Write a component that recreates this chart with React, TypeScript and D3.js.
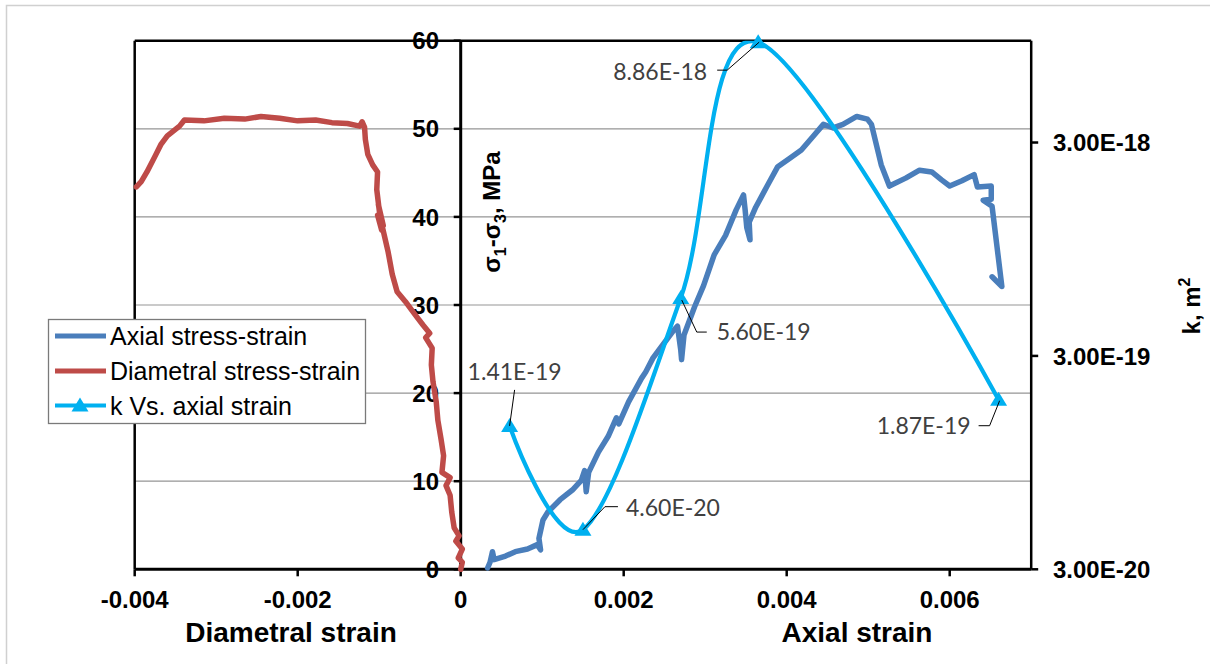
import React from "react";
import * as d3 from "d3";

// Diametral stress-strain record (strain, deviator stress in MPa)
const diametralStrain = [
  0, 0.00002, -0.00003, 0.00002, -0.00006, -0.00002, -0.00008, -0.00011, -0.00013, -0.00018,
  -0.00013, -0.00023, -0.00021, -0.00024, -0.00028, -0.0003, -0.00034, -0.00036, -0.00035, -0.00043,
  -0.00038, -0.00046, -0.00056, -0.00068, -0.00078, -0.00084, -0.00089, -0.00096, -0.00101, -0.00095,
  -0.00102, -0.00097, -0.00103, -0.00102, -0.00108, -0.00114, -0.00117, -0.00118, -0.00121, -0.00124,
  -0.00139, -0.00158, -0.00178, -0.002, -0.00222, -0.00245, -0.00265, -0.0029, -0.00315, -0.00339,
  -0.00345, -0.0036, -0.00368, -0.00375, -0.00385, -0.00392, -0.00398,
];
const diametralStress = [
  0, 0.8, 1.3, 2.3, 3.2, 3.8, 4.7, 6.5, 8.4, 9.5,
  10.4, 11.0, 12.9, 14.7, 16.9, 19.0, 21.3, 23.2, 25.1, 26.3,
  26.8, 27.7, 28.9, 30.4, 31.5, 33.5, 36.0, 38.8, 41.4, 39.0,
  40.2, 38.5, 43.1, 45.1, 45.9, 47.1, 48.8, 50.2, 50.8, 50.3,
  50.6, 50.7, 51.0, 50.9, 51.2, 51.4, 51.1, 51.2, 50.9, 51.0,
  50.3, 49.2, 48.2, 46.9, 45.1, 44.0, 43.4,
];

// Axial stress-strain record
const axialStrain = [
  0.00033, 0.00036, 0.00039, 0.00041, 0.00055, 0.00067, 0.00082, 0.00094, 0.00098, 0.00096,
  0.00101, 0.00107, 0.00122, 0.00137, 0.00148, 0.00152, 0.00154, 0.00157, 0.00169, 0.00181,
  0.00191, 0.00194, 0.00206, 0.00222, 0.00227, 0.00236, 0.00249, 0.00261, 0.00266, 0.0027,
  0.00271, 0.00274, 0.00287, 0.00298, 0.00311, 0.00325, 0.00338, 0.00347, 0.00349, 0.00351,
  0.00355, 0.00354, 0.00362, 0.00376, 0.00389, 0.00403, 0.00418, 0.00432, 0.00445, 0.00457,
  0.00469, 0.00486, 0.00499, 0.00504, 0.00516, 0.00526, 0.00546, 0.00563, 0.00578, 0.0059,
  0.006, 0.00615, 0.0063, 0.00634, 0.00651, 0.00651, 0.00641, 0.00652, 0.00664, 0.00652,
];
const axialStress = [
  0.15, 0.8, 2.0, 1.1, 1.5, 2.0, 2.3, 2.8, 2.2, 3.5,
  5.6, 6.5, 7.9, 9.0, 10.1, 11.2, 8.8, 11.0, 13.3, 15.1,
  17.2, 16.5, 19.0, 21.7, 22.4, 24.0, 25.6, 27.1, 27.6, 24.9,
  23.8, 26.6, 29.8, 32.2, 35.7, 37.9, 40.8, 42.5, 40.8, 38.8,
  37.4, 39.4, 41.1, 43.5, 45.7, 46.6, 47.6, 49.1, 50.5, 50.1,
  50.5, 51.4, 51.1, 50.5, 45.9, 43.5, 44.4, 45.3, 45.1, 44.2,
  43.5, 44.1, 44.8, 43.4, 43.5, 42.0, 41.9, 41.2, 32.1, 33.2,
];

// Permeability measured at selected axial strains (m²)
const kStrain = [0.0006, 0.0015, 0.0027, 0.00365, 0.0066];
const kValues = [1.41e-19, 4.6e-20, 5.6e-19, 8.86e-18, 1.87e-19];

const stressTicks = [0, 10, 20, 30, 40, 50, 60];
const gridStress = [10, 20, 30, 40, 50];
const diametralTicks = [-0.004, -0.002, 0];
const axialTicks = [0.002, 0.004, 0.006];
const kTicks = [3e-20, 3e-19, 3e-18];
const seriesNames = ["Axial stress-strain", "Diametral stress-strain", "k Vs. axial strain"];

const AXIAL_COLOR = "#4A7EBB";
const DIAM_COLOR = "#BE4B48";
const K_COLOR = "#00B0F0";
const BOLD_FONT = "'Liberation Sans', Arial, sans-serif";
const LABEL_FONT = "Lato, 'Open Sans', sans-serif";

const top = 40.7;
const bottom = 569.3;
const xLeft = 134.7;
const xMid = 460.7;
const xRight = 1031.2;

// Placement of each permeability label relative to its marker
const labelPlacement = [
  { anchor: "middle", dx: 5, dy: -54, leader: [[5, -36], [0, 0]] },
  { anchor: "start", dx: 43, dy: -22, leader: [[35, -23], [22, -23], [0, 0]] },
  { anchor: "start", dx: 36, dy: 34, leader: [[26, 34], [16, 34], [1, 2]] },
  { anchor: "end", dx: -51, dy: 30, leader: [[-41, 28], [-31, 28], [1, 0]] },
  { anchor: "end", dx: -28, dy: 26, leader: [[-20, 26], [-9, 26], [1, 1]] },
];

const fmtStrain = (v: number) => String(v);
const fmtK = (v: number) => v.toExponential(2).toUpperCase();
const triangle = "M0,-8 L8.5,6 L-8.5,6 Z";

export default function App() {
  const xDiam = d3.scaleLinear().domain([-0.004, 0]).range([xLeft, xMid]);
  const xAxial = d3.scaleLinear().domain([0, 0.007]).range([xMid, xRight]);
  const yStress = d3.scaleLinear().domain([0, 60]).range([bottom, top]);
  const yK = d3.scaleLog().domain([3e-20, 9e-18]).range([bottom, top]);

  const diamPts: [number, number][] = diametralStrain.map((s, i) => [xDiam(s), yStress(diametralStress[i])]);
  const axialPts: [number, number][] = axialStrain.map((s, i) => [xAxial(s), yStress(axialStress[i])]);
  const kPts: [number, number][] = kStrain.map((s, i) => [xAxial(s), yK(kValues[i])]);

  const straight = d3.line();
  const smooth = d3.line().curve(d3.curveCardinal.tension(0));

  const legendRows = [336, 371, 405.5];
  const legendColors = [AXIAL_COLOR, DIAM_COLOR, K_COLOR];

  return (
    <div style={{ position: "absolute", left: 0, top: 0 }}>
      <svg width={1210} height={664} style={{ display: "block", background: "#fff" }}>
        <defs>
          <clipPath id="plotClip">
            <rect x={xMid} y={top} width={xRight - xMid} height={bottom - top} />
          </clipPath>
        </defs>
        <rect x={6.5} y={5.5} width={1230} height={700} fill="#fff" stroke="#d0d0d0" strokeWidth={1.5} />

        {/* horizontal gridlines */}
        {gridStress.map((v) => (
          <line key={v} x1={xLeft} x2={xRight} y1={yStress(v)} y2={yStress(v)} stroke="#959595" strokeWidth={1.2} />
        ))}

        {/* frame */}
        <line x1={xLeft} x2={xRight} y1={top} y2={top} stroke="#000" strokeWidth={2.5} />
        <line x1={xLeft} x2={xRight} y1={bottom} y2={bottom} stroke="#000" strokeWidth={3} />
        <line x1={xLeft} x2={xLeft} y1={top} y2={bottom} stroke="#000" strokeWidth={2.5} />
        <line x1={xRight} x2={xRight} y1={top} y2={bottom} stroke="#000" strokeWidth={2.5} />
        <line x1={xMid} x2={xMid} y1={top} y2={bottom} stroke="#000" strokeWidth={3} />

        {/* stress axis ticks and labels */}
        {stressTicks.map((v) => (
          <g key={v}>
            <line x1={xMid - 7} x2={xMid} y1={yStress(v)} y2={yStress(v)} stroke="#000" strokeWidth={2.5} />
            <text x={439} y={yStress(v) + 8.6} textAnchor="end" fontFamily={BOLD_FONT} fontWeight="bold" fontSize={24} fill="#000">
              {v}
            </text>
          </g>
        ))}

        {/* strain axes */}
        {diametralTicks.map((v) => (
          <g key={"d" + v}>
            <line x1={xDiam(v)} x2={xDiam(v)} y1={bottom} y2={bottom + 7} stroke="#000" strokeWidth={2.5} />
            <text x={xDiam(v)} y={608} textAnchor="middle" fontFamily={BOLD_FONT} fontWeight="bold" fontSize={24}>
              {fmtStrain(v)}
            </text>
          </g>
        ))}
        {axialTicks.map((v) => (
          <g key={"a" + v}>
            <line x1={xAxial(v)} x2={xAxial(v)} y1={bottom} y2={bottom + 7} stroke="#000" strokeWidth={2.5} />
            <text x={xAxial(v)} y={608} textAnchor="middle" fontFamily={BOLD_FONT} fontWeight="bold" fontSize={24}>
              {fmtStrain(v)}
            </text>
          </g>
        ))}

        {/* permeability axis */}
        {kTicks.map((v) => (
          <g key={"k" + v}>
            <line x1={xRight} x2={xRight + 7} y1={yK(v)} y2={yK(v)} stroke="#000" strokeWidth={2.5} />
            <text x={1053} y={yK(v) + 8.6} fontFamily={BOLD_FONT} fontWeight="bold" fontSize={24}>
              {fmtK(v)}
            </text>
          </g>
        ))}

        {/* axis titles */}
        <text x={291} y={642} textAnchor="middle" fontFamily={BOLD_FONT} fontWeight="bold" fontSize={28}>
          Diametral strain
        </text>
        <text x={857} y={642} textAnchor="middle" fontFamily={BOLD_FONT} fontWeight="bold" fontSize={28}>
          Axial strain
        </text>
        <text transform="translate(500,212) rotate(-90)" textAnchor="middle" fontFamily={BOLD_FONT} fontWeight="bold" fontSize={24}>
          σ<tspan fontSize={16} dy={6}>1</tspan>
          <tspan dy={-6}>-σ</tspan>
          <tspan fontSize={16} dy={6}>3</tspan>
          <tspan dy={-6}>, MPa</tspan>
        </text>
        <text transform="translate(1200,306) rotate(-90)" textAnchor="middle" fontFamily={BOLD_FONT} fontWeight="bold" fontSize={24}>
          k, m<tspan fontSize={16} dy={-10}>2</tspan>
        </text>

        {/* stress-strain curves */}
        <path d={straight(diamPts) || ""} fill="none" stroke={DIAM_COLOR} strokeWidth={5.5} strokeLinejoin="round" strokeLinecap="round" />
        <path d={straight(axialPts) || ""} fill="none" stroke={AXIAL_COLOR} strokeWidth={5.5} strokeLinejoin="round" strokeLinecap="round" />

        {/* permeability curve */}
        <path d={smooth(kPts) || ""} fill="none" stroke={K_COLOR} strokeWidth={4.2} clipPath="url(#plotClip)" />
        {kPts.map(([x, y], i) => (
          <path key={"m" + i} d={triangle} transform={`translate(${x},${y})`} fill={K_COLOR} />
        ))}

        {/* permeability value labels */}
        {kPts.map(([x, y], i) => {
          const p = labelPlacement[i];
          const leader = p.leader.map(([dx, dy]) => [x + dx, y + dy] as [number, number]);
          return (
            <g key={"l" + i}>
              <path d={straight(leader) || ""} fill="none" stroke="#000" strokeWidth={1} />
              <text x={x + p.dx} y={y + p.dy} dy="0.35em" textAnchor={p.anchor} fontFamily={LABEL_FONT} fontSize={23} fill="#404040">
                {fmtK(kValues[i])}
              </text>
            </g>
          );
        })}

        {/* legend */}
        <rect x={48.5} y={319.5} width={317} height={104} fill="#fff" stroke="#7a7a7a" strokeWidth={1.3} />
        {seriesNames.map((name, i) => (
          <g key={name}>
            <line x1={55} x2={106} y1={legendRows[i]} y2={legendRows[i]} stroke={legendColors[i]} strokeWidth={i === 2 ? 4.2 : 5} />
            {i === 2 && <path d={triangle} transform={`translate(80,${legendRows[i]})`} fill={K_COLOR} />}
            <text x={110} y={legendRows[i] + 9} fontFamily={BOLD_FONT} fontSize={25} fill="#000">
              {name}
            </text>
          </g>
        ))}
      </svg>
    </div>
  );
}
